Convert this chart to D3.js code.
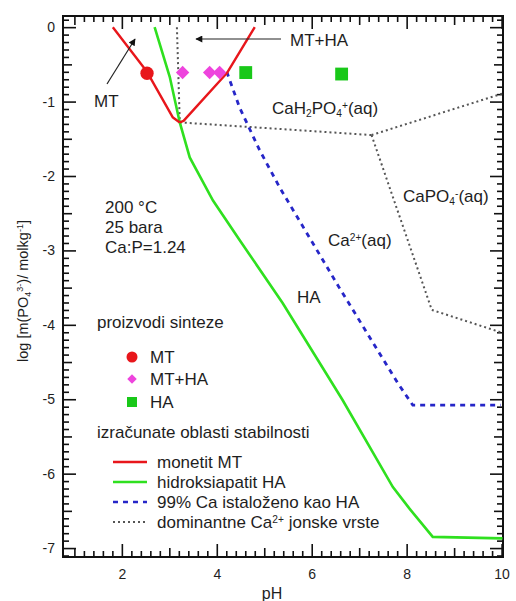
<!DOCTYPE html>
<html>
<head>
<meta charset="utf-8">
<script src="https://cdn.jsdelivr.net/npm/d3@7/dist/d3.min.js"></script>
<style>
  body { margin: 0; background: #fff; }
  svg { display: block; font-family: "Liberation Sans", Arial, sans-serif; }
  text { fill: #1e1e1e; }
</style>
</head>
<body>
<svg id="chart" width="516" height="601"></svg>
<script>
// Stability fields of calcium phosphates at 200 °C (pH vs log m(PO4 3-))
const monetitLeft  = [[1.81, 0.0], [2.53, -0.60], [3.07, -1.21], [3.22, -1.28]];
const monetitRight = [[3.22, -1.28], [3.30, -1.26], [4.21, -0.62], [4.80, 0.0]];
const hydroxyapatite = [[2.69, 0.0], [3.01, -0.67], [3.22, -1.28], [3.43, -1.75], [3.92, -2.33],
  [4.48, -2.86], [5.39, -3.71], [6.65, -5.01], [7.71, -6.18], [8.06, -6.47], [8.55, -6.85], [10.02, -6.87]];
const caPrecipitated = [[4.21, -0.60], [4.48, -1.08], [4.90, -1.65], [5.33, -2.16], [6.58, -3.50],
  [7.81, -4.78], [8.13, -5.08], [9.98, -5.08]];
const speciesBounds = [
  [[3.16, 0.0], [3.22, -1.28]],
  [[3.22, -1.28], [4.90, -1.35], [7.26, -1.45]],
  [[7.26, -1.45], [10.03, -0.89]],
  [[7.26, -1.45], [8.53, -3.80], [10.03, -4.11]]
];
const samplesMT = [[2.53, -0.62]];
const samplesMTHA = [[3.28, -0.61], [3.85, -0.61], [4.06, -0.61]];
const samplesHA = [[4.61, -0.61], [6.63, -0.63]];
const xTickLabels = [2, 4, 6, 8, 10];
const yTickLabels = [0, -1, -2, -3, -4, -5, -6, -7];

const colRed = "#e8161b", colGreen = "#2fe01f", colBlue = "#2626c8", colPink = "#ee44dd",
      colSquare = "#19c819", colDot = "#555";

const svg = d3.select("#chart");
const x = d3.scaleLinear().domain([0.76, 10.03]).range([63, 503]);
const y = d3.scaleLinear().domain([-7.12, 0.15]).range([557, 16]);
const [L, R] = x.range(), [B, T] = y.range();

// inward ticks on all four sides
const xMinor = d3.range(1.0, 10.01, 0.2).map(v => +v.toFixed(1)).filter(v => Math.abs(v - Math.round(v)) > 1e-6);
const xOdd = [1, 3, 5, 7, 9];
const yMinor = d3.range(-7.1, 0.11, 0.1).map(v => +v.toFixed(1)).filter(v => Math.abs(v * 2 - Math.round(v * 2)) > 1e-6);
const yHalf = d3.range(-6.5, 0.1, 1);

function tickSet(axisFn, scale, vals, len, pos, isX) {
  const g = svg.append("g")
    .attr("transform", isX ? `translate(0,${pos})` : `translate(${pos},0)`)
    .call(axisFn(scale).tickValues(vals).tickSizeInner(-len).tickSizeOuter(0).tickFormat(""));
  g.select(".domain").remove();
  g.selectAll("line").attr("stroke", "#111").attr("stroke-width", 1.6);
  return g;
}
[[d3.axisBottom, B], [d3.axisTop, T]].forEach(([fn, p]) => {
  tickSet(fn, x, xMinor, 6, p, true);
  tickSet(fn, x, xOdd, 9, p, true);
  tickSet(fn, x, xTickLabels, 13, p, true);
});
[[d3.axisLeft, L], [d3.axisRight, R]].forEach(([fn, p]) => {
  tickSet(fn, y, yMinor, 6, p, false);
  tickSet(fn, y, yHalf, 9, p, false);
  tickSet(fn, y, yTickLabels, 13, p, false);
});

// tick labels
const xl = svg.append("g").attr("transform", `translate(0,${B})`)
  .call(d3.axisBottom(x).tickValues(xTickLabels).tickSize(0).tickPadding(12).tickFormat(d => d));
xl.select(".domain").remove();
xl.selectAll("text").attr("font-size", 14).attr("fill", "#1e1e1e").attr("font-family", "Liberation Sans, Arial, sans-serif");
const yl = svg.append("g").attr("transform", `translate(${L},0)`)
  .call(d3.axisLeft(y).tickValues(yTickLabels).tickSize(0).tickPadding(8).tickFormat(d => d === 0 ? "0" : "-" + Math.abs(d)));
yl.select(".domain").remove();
yl.selectAll("text").attr("font-size", 14).attr("fill", "#1e1e1e").attr("font-family", "Liberation Sans, Arial, sans-serif");

// frame
svg.append("rect").attr("x", L).attr("y", T).attr("width", R - L).attr("height", B - T)
  .attr("fill", "none").attr("stroke", "#111").attr("stroke-width", 2);

const line = d3.line().x(d => x(d[0])).y(d => y(d[1]));
const plot = svg.append("g");

speciesBounds.forEach(seg => plot.append("path").attr("d", line(seg)).attr("fill", "none")
  .attr("stroke", colDot).attr("stroke-width", 2).attr("stroke-dasharray", "2,3"));
plot.append("path").attr("d", line(caPrecipitated)).attr("fill", "none")
  .attr("stroke", colBlue).attr("stroke-width", 2.8).attr("stroke-dasharray", "5,5");
plot.append("path").attr("d", line(hydroxyapatite)).attr("fill", "none")
  .attr("stroke", colGreen).attr("stroke-width", 2.6);
[monetitLeft, monetitRight].forEach(seg => plot.append("path").attr("d", line(seg)).attr("fill", "none")
  .attr("stroke", colRed).attr("stroke-width", 2.4).attr("stroke-linejoin", "round"));

// sample markers (diamond = square turned 45°)
function markers(data, sym, col, rot = 0) {
  plot.selectAll(null).data(data).join("path")
    .attr("transform", d => `translate(${x(d[0])},${y(d[1])}) rotate(${rot})`)
    .attr("d", sym).attr("fill", col);
}
markers(samplesMT, d3.symbol().type(d3.symbolCircle).size(140), colRed);
markers(samplesMTHA, d3.symbol().type(d3.symbolSquare).size(90), colPink, 45);
markers(samplesHA, d3.symbol().type(d3.symbolSquare).size(165), colSquare);

// arrows
svg.append("defs").append("marker").attr("id", "ah").attr("viewBox", "0 0 10 10")
  .attr("refX", 9).attr("refY", 5).attr("markerWidth", 10).attr("markerHeight", 7)
  .attr("markerUnits", "userSpaceOnUse").attr("orient", "auto")
  .append("path").attr("d", "M0,0 L10,5 L0,10 z").attr("fill", "#111");
svg.append("line").attr("x1", 107).attr("y1", 84).attr("x2", 135).attr("y2", 39)
  .attr("stroke", "#222").attr("stroke-width", 1.2).attr("marker-end", "url(#ah)");
svg.append("line").attr("x1", 281).attr("y1", 39).attr("x2", 196).attr("y2", 39)
  .attr("stroke", "#222").attr("stroke-width", 1.2).attr("marker-end", "url(#ah)");

function label(px, py, parts, size = 17, anchor = "start") {
  const t = svg.append("text").attr("x", px).attr("y", py).attr("font-size", size).attr("text-anchor", anchor);
  parts.forEach(p => {
    if (typeof p === "string") { t.append("tspan").text(p); return; }
    const s = t.append("tspan").text(p.t).attr("font-size", size * 0.6);
    if (p.sub) s.attr("baseline-shift", "-30%");
    if (p.sup) s.attr("baseline-shift", "55%");
  });
  return t;
}

label(94, 107, ["MT"]);
label(290, 46, ["MT+HA"]);
label(272, 114, ["CaH", {t: "2", sub: 1}, "PO", {t: "4", sub: 1}, {t: "+", sup: 1}, "(aq)"]);
label(403, 202, ["CaPO", {t: "4", sub: 1}, {t: "-", sup: 1}, "(aq)"]);
label(328, 246, ["Ca", {t: "2+", sup: 1}, "(aq)"]);
label(297, 303, ["HA"]);
label(105, 213, ["200 °C"]);
label(105, 233, ["25 bara"]);
label(105, 253, ["Ca:P=1.24"]);
label(97, 328, ["proizvodi sinteze"]);

// sample legend
const legSamples = [
  ["MT", d3.symbol().type(d3.symbolCircle).size(95), colRed, 357, 0],
  ["MT+HA", d3.symbol().type(d3.symbolSquare).size(45), colPink, 379, 45],
  ["HA", d3.symbol().type(d3.symbolSquare).size(100), colSquare, 402, 0]
];
legSamples.forEach(([name, sym, col, ly, rot]) => {
  svg.append("path").attr("transform", `translate(132,${ly}) rotate(${rot})`).attr("d", sym).attr("fill", col);
  label(150, ly + 6, [name]);
});

label(97, 438, ["izračunate oblasti stabilnosti"]);
const legLines = [
  [["monetit MT"], colRed, null, 462],
  [["hidroksiapatit HA"], colGreen, null, 482],
  [["99% Ca istaloženo kao HA"], colBlue, "5,5", 502],
  [["dominantne Ca", {t: "2+", sup: 1}, " jonske vrste"], colDot, "2,3", 522]
];
legLines.forEach(([parts, col, dash, ly]) => {
  const l = svg.append("line").attr("x1", 113).attr("x2", 147).attr("y1", ly).attr("y2", ly)
    .attr("stroke", col).attr("stroke-width", dash === "2,3" ? 2 : 2.6);
  if (dash) l.attr("stroke-dasharray", dash);
  label(157, ly + 6, parts);
});

// axis titles
label(272, 599, ["pH"], 16, "middle");
svg.append("g").attr("transform", "translate(28,291) rotate(-90)")
  .call(g => {
    const t = g.append("text").attr("text-anchor", "middle").attr("font-size", 14.5);
    t.append("tspan").text("log [m(PO");
    t.append("tspan").text("4").attr("font-size", 9).attr("baseline-shift", "-30%");
    t.append("tspan").text("3-").attr("font-size", 9).attr("baseline-shift", "55%");
    t.append("tspan").text(")/ molkg");
    t.append("tspan").text("-1").attr("font-size", 9).attr("baseline-shift", "55%");
    t.append("tspan").text("]");
  });
</script>
</body>
</html>
